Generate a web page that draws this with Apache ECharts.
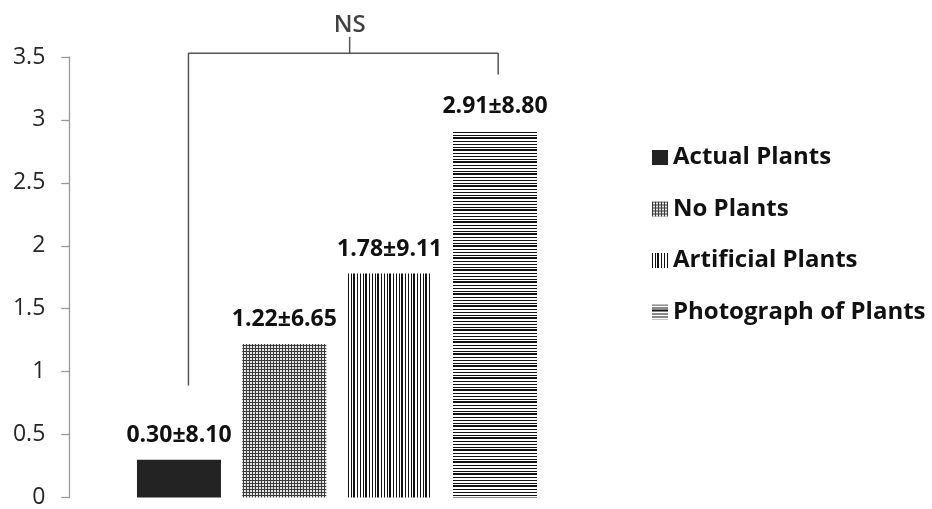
<!DOCTYPE html>
<html><head><meta charset="utf-8">
<script src="https://cdn.jsdelivr.net/npm/echarts@6/dist/echarts.min.js"></script>
<style>html,body{margin:0;padding:0;background:#fff}#c{width:932px;height:509px}</style>
</head><body><div id="c"></div>
<script>
var categories = ['Actual Plants', 'No Plants', 'Artificial Plants', 'Photograph of Plants'];
var means = [0.30, 1.22, 1.78, 2.91];
var sds = [8.10, 6.65, 9.11, 8.80];
var yTicks = [0, 0.5, 1, 1.5, 2, 2.5, 3, 3.5];
// significance bracket in data units (x: category index, y: value)
var bracketX = [0.09, 3.03];
var bracketY = 3.53;
var bracketLeftBottom = 0.89;
var bracketRightBottom = 3.36;
var nsX = 1.62;
var nsTickTop = 3.66;
var nsLabel = 'NS';

var FONT = '"Open Sans", sans-serif';

function tile(w, h, draw) {
  var c = document.createElement('canvas');
  c.width = w; c.height = h;
  var g = c.getContext('2d');
  g.fillStyle = '#fff'; g.fillRect(0, 0, w, h);
  draw(g);
  return { image: c, repeat: 'repeat' };
}
var patSolid = '#232323';
var patDots = tile(3, 3, function (g) {
  g.fillStyle = '#3a3a3a'; g.fillRect(0, 0, 3, 1); g.fillRect(0, 0, 1, 3);
  g.fillStyle = '#e6e6e6'; g.fillRect(1, 1, 2, 2);
});
var patV = tile(12, 4, function (g) {
  g.fillStyle = '#111';
  g.fillRect(0, 0, 1, 4); g.fillRect(3, 0, 1, 4); g.fillRect(5, 0, 2, 4); g.fillRect(9, 0, 1, 4);
});
var patH = tile(4, 12, function (g) {
  g.fillStyle = '#111';
  g.fillRect(0, 0, 4, 1); g.fillRect(0, 3, 4, 1); g.fillRect(0, 5, 4, 2); g.fillRect(0, 9, 4, 1);
});
var fills = [patSolid, patDots, patV, patH];

var chart = echarts.init(document.getElementById('c'), null, { renderer: 'canvas' });

var series = categories.map(function (name, i) {
  var data = categories.map(function (_, j) { return j === i ? means[i] : '-'; });
  return {
    name: name, type: 'bar', stack: 'all', barWidth: 84,
    itemStyle: { color: fills[i] },
    label: {
      show: true, position: 'top', distance: 13,
      formatter: function () { return means[i].toFixed(2) + '±' + sds[i].toFixed(2); },
      fontFamily: FONT, fontWeight: 'bold', fontSize: 23, color: '#111'
    },
    data: data
  };
});

series.push({
  type: 'line', xAxisIndex: 1, clip: false, silent: true,
  symbol: 'none', lineStyle: { color: '#555', width: 1.5 },
  data: [[bracketX[0], bracketLeftBottom], [bracketX[0], bracketY], [bracketX[1], bracketY], [bracketX[1], bracketRightBottom]]
});
series.push({
  type: 'line', xAxisIndex: 1, clip: false, silent: true,
  symbol: 'none', lineStyle: { color: '#555', width: 1.5 },
  data: [[nsX, bracketY], [nsX, nsTickTop]]
});
series.push({
  type: 'scatter', xAxisIndex: 1, clip: false, silent: true,
  symbolSize: 0,
  label: { show: true, position: 'top', distance: 0, formatter: nsLabel,
    fontFamily: FONT, fontSize: 24, fontWeight: 600, color: '#111' },
  data: [[nsX, nsTickTop]]
});

chart.setOption({
  animation: false,
  backgroundColor: '#fff',
  grid: { left: 126.3, right: 384.3, top: 57, bottom: 11 },
  legend: {
    orient: 'vertical', left: 647, top: 139,
    data: categories,
    icon: 'rect', itemWidth: 16, itemHeight: 15, itemGap: 24.5,
    textStyle: { fontFamily: FONT, fontWeight: 'bold', fontSize: 24, color: '#111', lineHeight: 27, padding: [0, 0, 0, 0] }
  },
  xAxis: [
    { type: 'category', data: categories, show: false },
    { type: 'value', min: -0.5, max: 3.5, show: false }
  ],
  yAxis: {
    type: 'value', min: yTicks[0], max: yTicks[yTicks.length - 1], interval: 0.5,
    offset: 57,
    axisLine: { show: true, onZero: false, lineStyle: { color: '#999', width: 1.3 } },
    axisTick: { show: true, length: 8, lineStyle: { color: '#999', width: 1.3 } },
    splitLine: { show: false },
    axisLabel: { margin: 24, fontFamily: FONT, fontSize: 23, color: '#262626',
      formatter: function (v) { return String(v); } }
  },
  series: series
});
</script></body></html>
